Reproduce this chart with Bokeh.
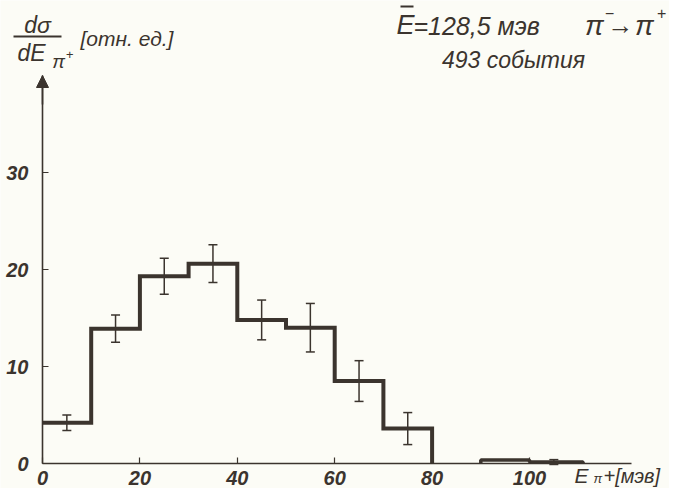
from bokeh.plotting import figure
from bokeh.models import Range1d, Label, Arrow, NormalHead, FixedTicker, Whisker, ColumnDataSource
from bokeh.embed import file_html
from bokeh.resources import INLINE

# ---- data ----
edges = [0, 10, 20, 30, 40, 50, 60, 70, 80]
values = [4.2, 13.9, 19.3, 20.6, 14.8, 14.0, 8.5, 3.6]
errors = [0.8, 1.4, 1.85, 1.95, 2.05, 2.5, 2.1, 1.65]
tail_edges = [90, 100, 111]
tail_values = [0.35, 0.15]
tail_err_x = [105]
tail_err_val = [0.15]
tail_err = [0.25]
x_ticks = [0, 20, 40, 60, 80, 100]
y_ticks = [0, 10, 20, 30]
x_axis_end = 121
y_axis_end = 40

INK = "#3b342e"
BG = "#fcfcf6"
FONT = "Liberation Sans"

# pixel geometry of the reference (axis origin and scale)
X0, SX = 42.0, 4.87
Y0, SY = 463.0, 9.7
W, H = 669, 488


def fx(px):
    return (px - X0) / SX


def fy(py):
    return (Y0 - py) / SY


p = figure(width=W, height=H, output_backend="svg", toolbar_location=None,
           x_range=Range1d(fx(0), fx(W)), y_range=Range1d(fy(H), fy(0)),
           min_border=0,
           background_fill_color=BG, border_fill_color=BG, outline_line_color=None)
p.grid.visible = False

for ax in (p.xaxis[0], p.yaxis[0]):
    ax.fixed_location = 0
    ax.axis_line_color = INK
    ax.axis_line_width = 1.6
    ax.major_tick_line_color = INK
    ax.major_tick_line_width = 1.2
    ax.major_tick_in = 6
    ax.major_tick_out = 0
    ax.minor_tick_line_color = None
    ax.major_label_text_font = FONT
    ax.major_label_text_font_style = "bold italic"
    ax.major_label_text_font_size = "20px"
    ax.major_label_text_color = INK
p.xaxis.bounds = (0, x_axis_end)
p.yaxis.bounds = (0, y_axis_end)
p.xaxis.ticker = FixedTicker(ticks=x_ticks)
p.yaxis.ticker = FixedTicker(ticks=y_ticks)
p.xaxis.major_label_standoff = 7
p.yaxis.major_label_standoff = 14

# histogram step outline
xs, ys = [edges[0]], [values[0]]
for i, v in enumerate(values):
    if i > 0:
        xs.append(edges[i]); ys.append(v)
    xs.append(edges[i + 1]); ys.append(v)
xs.append(edges[-1]); ys.append(0)
p.line(xs, ys, line_color=INK, line_width=4, line_join="miter")

# tail bins
txs, tys = [tail_edges[0]], [0]
for i, v in enumerate(tail_values):
    txs.append(tail_edges[i]); tys.append(v)
    txs.append(tail_edges[i + 1]); tys.append(v)
txs.append(tail_edges[-1]); tys.append(0)
p.line(txs, tys, line_color=INK, line_width=3.5)

# error bars
centers = [(edges[i] + edges[i + 1]) / 2 for i in range(len(values))]
src = ColumnDataSource(dict(
    x=centers + tail_err_x,
    lo=[v - e for v, e in zip(values, errors)] + [v - e for v, e in zip(tail_err_val, tail_err)],
    hi=[v + e for v, e in zip(values, errors)] + [v + e for v, e in zip(tail_err_val, tail_err)]))
w = Whisker(source=src, base="x", lower="lo", upper="hi", line_color=INK, line_width=1.5)
for h in (w.upper_head, w.lower_head):
    h.size = 9
    h.line_color = INK
    h.line_width = 1.5
p.add_layout(w)

# y axis arrow head
p.add_layout(Arrow(end=NormalHead(size=12, fill_color=INK, line_color=INK, line_width=1),
                   x_start=0, y_start=y_axis_end - 3, x_end=0, y_end=y_axis_end,
                   line_color=INK, line_width=1.6))


def lab(text, px, py, size, align="left", style="italic"):
    p.add_layout(Label(x=fx(px), y=fy(py), text=text, text_font=FONT, text_font_style=style,
                       text_font_size=size, text_color=INK, text_align=align, text_baseline="middle"))


# y label fraction
lab("dσ", 37, 24, "23px", "center")
p.add_layout(Arrow(end=None, start=None, x_start=fx(13), y_start=fy(36), x_end=fx(61), y_end=fy(36),
                   line_color=INK, line_width=2))
lab("dE", 31, 52, "23px", "center")
lab("π", 58, 61, "19px", "center")
lab("+", 69, 54, "13px", "center")
lab("[отн. ед.]", 80, 38, "21px")

# top-right annotations
lab("E", 396, 24, "27px")
p.add_layout(Arrow(end=None, start=None, x_start=fx(400), y_start=fy(6), x_end=fx(413), y_end=fy(6),
                   line_color=INK, line_width=2))
lab("=128,5 мэв", 413, 25, "25px")
lab("π", 594, 25, "28px", "center")
lab("−", 609, 12, "16px", "center")
lab("→", 620, 24, "26px", "center")
lab("π", 644, 25, "28px", "center")
lab("+", 661, 12, "16px", "center")
lab("493 события", 513, 59, "23px", "center")

# x axis label
lab("E", 574, 475, "21px")
lab("π", 593, 478, "13px")
lab("+[мэв]", 603, 475, "20px")

open("out.html", "w").write(file_html(p, INLINE))
